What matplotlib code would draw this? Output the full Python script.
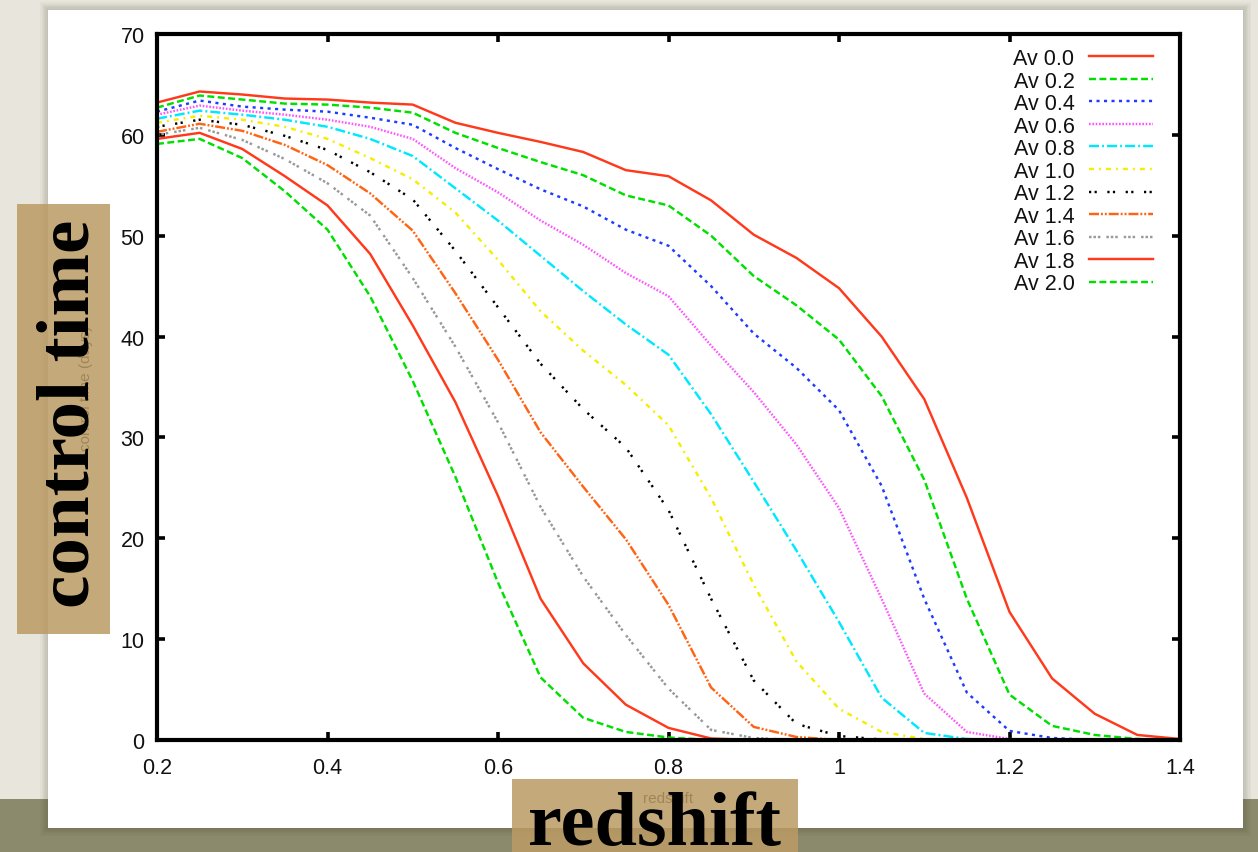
import matplotlib
matplotlib.use('Agg')
import matplotlib.pyplot as plt
from matplotlib.patches import Rectangle
import numpy as np

W, H = 1258, 853

# redshift grid and control-time curves for each extinction value
redshift = [0.20, 0.25, 0.30, 0.35, 0.40, 0.45, 0.50, 0.55, 0.60, 0.65, 0.70, 0.75, 0.80,
            0.85, 0.90, 0.95, 1.00, 1.05, 1.10, 1.15, 1.20, 1.25, 1.30, 1.35, 1.40]

av_labels = ['Av 0.0', 'Av 0.2', 'Av 0.4', 'Av 0.6', 'Av 0.8', 'Av 1.0',
             'Av 1.2', 'Av 1.4', 'Av 1.6', 'Av 1.8', 'Av 2.0']

av00 = [63.2, 64.3, 64.0, 63.6, 63.5, 63.2, 63.0, 61.2, 60.2, 59.3, 58.3, 56.5, 55.9,
        53.5, 50.1, 47.8, 44.8, 40.0, 33.8, 24.0, 12.7, 6.1, 2.6, 0.5, 0.1]
av02 = [62.7, 63.9, 63.5, 63.1, 63.0, 62.7, 62.2, 60.2, 58.7, 57.3, 56.0, 54.0, 53.0,
        50.0, 46.0, 43.1, 39.7, 34.1, 25.8, 14.0, 4.5, 1.4, 0.5, 0.1, 0.0]
av04 = [62.3, 63.4, 62.8, 62.5, 62.3, 61.7, 61.0, 58.7, 56.6, 54.6, 52.9, 50.6, 49.0,
        45.0, 40.3, 36.9, 32.7, 25.2, 14.0, 4.7, 0.9, 0.2, 0.0, 0.0, 0.0]
av06 = [62.0, 62.9, 62.4, 62.0, 61.5, 60.8, 59.6, 56.7, 54.3, 51.5, 49.1, 46.3, 44.0,
        39.1, 34.5, 29.3, 23.0, 14.0, 4.6, 0.8, 0.1, 0.0, 0.0, 0.0, 0.0]
av08 = [61.6, 62.4, 62.0, 61.5, 60.8, 59.6, 57.9, 54.7, 51.5, 48.0, 44.5, 41.2, 38.2,
        32.3, 25.6, 18.8, 11.7, 4.2, 0.7, 0.1, 0.0, 0.0, 0.0, 0.0, 0.0]
av10 = [61.2, 61.9, 61.5, 60.8, 59.6, 57.7, 55.6, 52.3, 47.6, 42.5, 38.6, 35.2, 31.2,
        24.0, 15.4, 7.8, 3.1, 0.8, 0.1, 0.0, 0.0, 0.0, 0.0, 0.0, 0.0]
av12 = [60.8, 61.5, 61.0, 59.9, 58.5, 56.3, 53.6, 48.5, 42.9, 37.3, 32.8, 29.0, 22.8,
        14.0, 5.9, 1.6, 0.4, 0.05, 0.0, 0.0, 0.0, 0.0, 0.0, 0.0, 0.0]
av14 = [60.3, 61.1, 60.4, 59.0, 57.0, 54.2, 50.5, 44.3, 37.7, 30.5, 25.1, 19.9, 13.4,
        5.2, 1.3, 0.3, 0.0, 0.0, 0.0, 0.0, 0.0, 0.0, 0.0, 0.0, 0.0]
av16 = [60.0, 60.7, 59.5, 57.6, 55.2, 52.0, 45.8, 39.0, 31.5, 23.1, 16.2, 10.4, 5.1,
        1.0, 0.2, 0.0, 0.0, 0.0, 0.0, 0.0, 0.0, 0.0, 0.0, 0.0, 0.0]
av18 = [59.6, 60.2, 58.6, 55.9, 53.0, 48.2, 41.1, 33.5, 24.2, 14.0, 7.6, 3.5, 1.2,
        0.15, 0.0, 0.0, 0.0, 0.0, 0.0, 0.0, 0.0, 0.0, 0.0, 0.0, 0.0]
av20 = [59.1, 59.6, 57.7, 54.4, 50.6, 44.0, 35.6, 26.1, 15.6, 6.2, 2.2, 0.8, 0.25,
        0.0, 0.0, 0.0, 0.0, 0.0, 0.0, 0.0, 0.0, 0.0, 0.0, 0.0, 0.0]

x_ticks = [0.2, 0.4, 0.6, 0.8, 1.0, 1.2, 1.4]
x_ticklabels = ['0.2', '0.4', '0.6', '0.8', '1', '1.2', '1.4']
y_ticks = [0, 10, 20, 30, 40, 50, 60, 70]

# gnuplot-like line types: (colour, dash pattern in points or None for solid)
STYLES = [
    ('#ff3a1c', None),
    ('#00e000', (5, 2.5)),
    ('#1e3cff', (2.2, 3.2)),
    ('#ff55ff', (1.2, 1.2)),
    ('#00e8ff', (7.2, 2.2, 1.4, 2.2)),
    ('#f5ee00', (3.6, 3.6, 1.4, 3.6)),
    ('#000000', (1.6, 2.4, 1.6, 7.6)),
    ('#ff6414', (7.2, 1.4, 1.4, 1.4, 1.4, 1.4)),
    ('#999999', (1.8, 1.4, 1.8, 1.4, 1.8, 4.3)),
    ('#ff3a1c', None),
    ('#00e000', (5, 2.5)),
]

BG = '#e8e6dc'
BAND = '#8b8a6d'
TAN = '#bb9b64'

plt.rcParams['lines.scale_dashes'] = False
plt.rcParams['font.family'] = ['Liberation Sans', 'DejaVu Sans']


def fig_rect(x0, y0, x1, y1):
    """Pixel box (top-left origin) -> figure-fraction rectangle args."""
    return (x0 / W, 1 - y1 / H), (x1 - x0) / W, (y1 - y0) / H


def fx(x):
    return x / W


def fy(y):
    return 1 - y / H


fig = plt.figure(figsize=(W / 100, H / 100), dpi=100)
fig.patch.set_facecolor(BG)

# lower olive strip
xy, w, h = fig_rect(0, 800, W, H)
fig.add_artist(Rectangle(xy, w, h, transform=fig.transFigure, facecolor=BAND,
                         edgecolor='none', zorder=0))

# soft shadow under the white sheet
for i in range(6):
    d = 1.3 * (i + 1)
    xy, w, h = fig_rect(48 - d, 11 - d, 1243 + d, 829 + d)
    fig.add_artist(Rectangle(xy, w, h, transform=fig.transFigure, facecolor='#3a3628',
                             alpha=0.035, edgecolor='none', zorder=1))

# white sheet
xy, w, h = fig_rect(48, 11, 1243, 829)
fig.add_artist(Rectangle(xy, w, h, transform=fig.transFigure, facecolor='white',
                         edgecolor='none', zorder=2))

ax = fig.add_axes([157 / W, 1 - 741 / H, (1180 - 157) / W, (741 - 35) / H], zorder=3)
ax.set_facecolor('none')

series = [av00, av02, av04, av06, av08, av10, av12, av14, av16, av18, av20]
for vals, label, (color, dash) in zip(series, av_labels, STYLES):
    line, = ax.plot(redshift, vals, color=color, lw=1.75, label=label)
    if dash is not None:
        line.set_dashes(dash)

ax.set_xlim(0.2, 1.4)
ax.set_ylim(0, 70)
ax.set_xticks(x_ticks)
ax.set_xticklabels(x_ticklabels)
ax.set_yticks(y_ticks)
ax.tick_params(direction='in', length=6, width=2.6, top=True, right=True,
               labelsize=15.5, labelcolor='#111111')
ax.tick_params(axis='y', pad=9)
ax.tick_params(axis='x', pad=12)
for s in ax.spines.values():
    s.set_linewidth(3.0)

leg = ax.legend(loc='upper right', bbox_to_anchor=(fx(1153), fy(49)),
                bbox_transform=fig.transFigure, frameon=False, markerfirst=False,
                fontsize=15.5, handlelength=2.95, handletextpad=0.7,
                labelspacing=0.07, borderpad=0, borderaxespad=0)
for t in leg.get_texts():
    t.set_color('#111111')

# original small axis titles, mostly covered by the tan tags
fig.text(fx(90), fy(388), 'control time (days)', rotation=90, rotation_mode='anchor',
         ha='center', va='baseline', fontsize=11, color='black', zorder=4)
fig.text(fx(668), fy(803), 'redshift', ha='center', va='baseline', fontsize=11,
         color='black', zorder=4)

# tan tags
xy, w, h = fig_rect(17, 205, 110, 635)
fig.add_artist(Rectangle(xy, w, h, transform=fig.transFigure, facecolor=TAN,
                         alpha=0.86, edgecolor='none', zorder=5))
xy, w, h = fig_rect(512, 780, 798, H + 5)
fig.add_artist(Rectangle(xy, w, h, transform=fig.transFigure, facecolor=TAN,
                         alpha=0.86, edgecolor='none', zorder=5))

fig.text(fx(89), fy(414), 'control time', rotation=90, rotation_mode='anchor',
         ha='center', va='baseline', fontsize=54, fontweight='bold',
         family='Liberation Serif', color='black', zorder=6)
fig.text(fx(655), fy(845), 'redshift', ha='center', va='baseline',
         fontsize=55, fontweight='bold', family='Liberation Serif',
         color='black', zorder=6)

fig.savefig('out.png', dpi=100, facecolor=fig.get_facecolor())
